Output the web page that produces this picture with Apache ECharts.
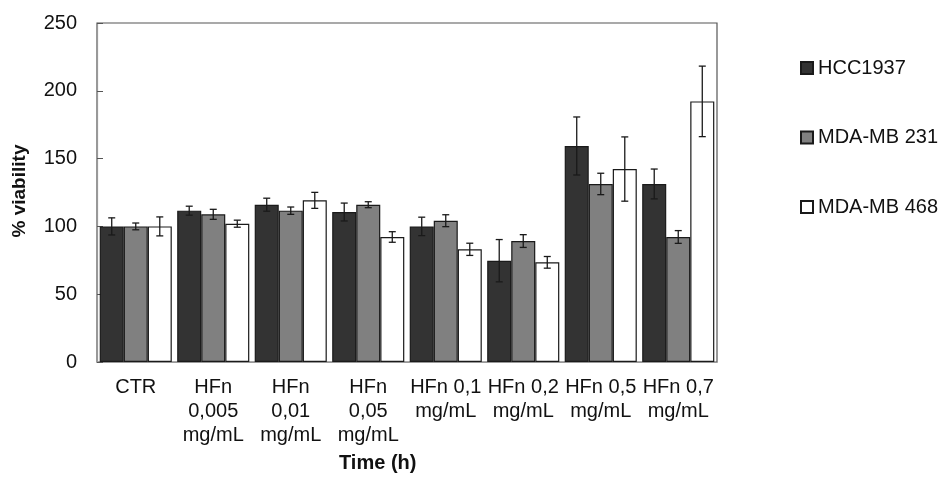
<!DOCTYPE html>
<html><head><meta charset="utf-8">
<script src="https://cdn.jsdelivr.net/npm/echarts@6/dist/echarts.min.js"></script>
<style>html,body{margin:0;padding:0;background:#fff}#c{width:944px;height:477px}</style>
</head><body><div id="c"></div>
<script>
const categories = ['CTR', 'HFn\n0,005\nmg/mL', 'HFn\n0,01\nmg/mL', 'HFn\n0,05\nmg/mL', 'HFn 0,1\nmg/mL', 'HFn 0,2\nmg/mL', 'HFn 0,5\nmg/mL', 'HFn 0,7\nmg/mL'];
const seriesNames = ['HCC1937', 'MDA-MB 231', 'MDA-MB 468'];
const hcc = [100, 111.6, 116, 110.6, 100, 74.7, 159.3, 131.3];
const hccErr = [6.3, 3.3, 4.8, 6.6, 6.8, 15.6, 21.4, 11];
const mda231 = [100, 108.9, 111.6, 116, 104.2, 89.2, 131.3, 92.2];
const mda231Err = [2.5, 3.7, 2.7, 2.2, 4.4, 4.7, 7.9, 4.7];
const mda468 = [100, 102, 119.2, 92.2, 83.1, 73.5, 142.3, 192.2];
const mda468Err = [7, 2.6, 5.9, 3.9, 4.5, 4.3, 23.7, 26];
const yTicks = [0, 50, 100, 150, 200, 250];

const FONT = '"Liberation Sans", Arial, sans-serif';
const fills = ['#333333', '#808080', '#ffffff'];
const values = [hcc, mda231, mda468];
const errs = [hccErr, mda231Err, mda468Err];
const CAT_GAP = 0.07;

function errSeries(s) {
  return {
    type: 'custom',
    name: seriesNames[s] + ' err',
    z: 5,
    silent: true,
    data: values[s].map((v, i) => [i, v, errs[s][i]]),
    encode: { x: 0, y: 1 },
    renderItem: function (params, api) {
      const i = api.value(0), v = api.value(1), e = api.value(2);
      const bw = api.size([1, 0])[0];
      const barW = bw * (1 - CAT_GAP) / 3;
      const c = api.coord([i, v]);
      const cx = c[0] + (s - 1) * barW;
      const yt = api.coord([i, v + e])[1];
      const yb = api.coord([i, v - e])[1];
      const cap = 3.5;
      const st = { stroke: '#1a1a1a', lineWidth: 1.3 };
      return {
        type: 'group',
        children: [
          { type: 'line', shape: { x1: cx, y1: yt, x2: cx, y2: yb }, style: st },
          { type: 'line', shape: { x1: cx - cap, y1: yt, x2: cx + cap, y2: yt }, style: st },
          { type: 'line', shape: { x1: cx - cap, y1: yb, x2: cx + cap, y2: yb }, style: st }
        ]
      };
    }
  };
}

const chart = echarts.init(document.getElementById('c'), null, { renderer: 'canvas' });
const barSeries = seriesNames.map((n, s) => ({
  type: 'bar',
  name: n,
  data: values[s],
  barGap: '0%',
  barCategoryGap: (CAT_GAP * 100) + '%',
  itemStyle: { color: fills[s], borderColor: '#1a1a1a', borderWidth: 1.2 },
  emphasis: { disabled: true }
}));

chart.setOption({
  animation: false,
  textStyle: { fontFamily: FONT },
  grid: { left: 97, right: 227, top: 23, bottom: 115, show: true, borderColor: '#555', borderWidth: 1.2, backgroundColor: 'transparent' },
  legend: {
    data: seriesNames,
    orient: 'vertical',
    left: 800, top: 58, padding: 0,
    itemWidth: 12, itemHeight: 12, itemGap: 49.5,
    icon: 'rect',
    textStyle: { fontSize: 20, color: '#111', fontFamily: FONT, lineHeight: 20 }
  },
  xAxis: {
    type: 'category',
    data: categories,
    axisLine: { show: true, lineStyle: { color: '#999', width: 1.2 } },
    axisTick: { show: false },
    axisLabel: { interval: 0, fontSize: 20, lineHeight: 24, color: '#111', margin: 13, fontFamily: FONT, hideOverlap: false }
  },
  yAxis: {
    type: 'value',
    min: 0, max: 250, interval: 50,
    splitLine: { show: false },
    axisLine: { show: true, lineStyle: { color: '#999', width: 1.2 } },
    axisTick: { show: true, inside: true, length: 6, lineStyle: { color: '#555' } },
    axisLabel: { fontSize: 20, color: '#111', margin: 20, fontFamily: FONT }
  },
  graphic: [
    { type: 'text', left: 339, top: 453, style: { text: 'Time (h)', font: 'bold 20px ' + FONT, fill: '#111' } },
    { type: 'text', x: 20, y: 191, rotation: Math.PI / 2, style: { text: '% viability', font: 'bold 19px ' + FONT, fill: '#111', textAlign: 'center', textVerticalAlign: 'middle' } }
  ],
  series: barSeries.concat([0, 1, 2].map(errSeries))
});
</script></body></html>
